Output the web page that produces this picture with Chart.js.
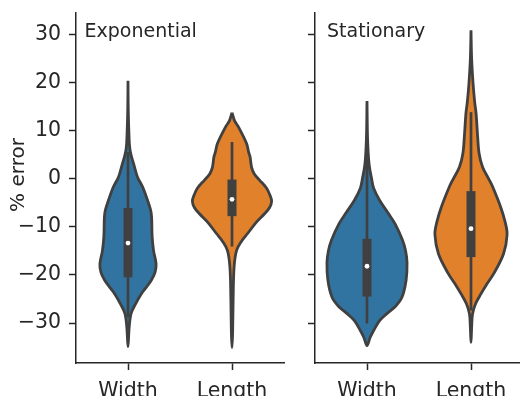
<!DOCTYPE html>
<html>
<head>
<meta charset="utf-8">
<script src="https://cdn.jsdelivr.net/npm/chart.js@4.4.0/dist/chart.umd.min.js"></script>
<style>
  html, body { margin: 0; padding: 0; background: #fff; overflow: hidden; width: 520px; height: 396px; }
  #left { position: absolute; left: 0; top: 0; }
  #right { position: absolute; left: 290px; top: 0; }
</style>
</head>
<body>
<canvas id="left" width="290" height="396"></canvas>
<canvas id="right" width="240" height="396"></canvas>
<script>
// ==============================
// Violin plots: % error by panel
// ==============================

const categories = ['Width', 'Length'];
const panelTitles = ['Exponential', 'Stationary'];
const yTicks = [-30, -20, -10, 0, 10, 20, 30];
const yLabel = '% error';

// violin outlines: % error levels (top -> bottom) and half widths (category units)
const expWidthY = [20.3, 15, 10, 5.9, 2.4, 0.3, -1.7, -4.5, -6.5, -8, -12, -15, -17.7, -19.5, -21, -22.5, -24, -26, -28, -31, -34.9];
const expWidthHalf = [0, 0.002, 0.008, 0.02, 0.063, 0.092, 0.14, 0.188, 0.217, 0.227, 0.232, 0.246, 0.27, 0.26, 0.227, 0.179, 0.126, 0.073, 0.03, 0.011, 0];

const expLengthY = [13.7, 12, 10.7, 7.3, 5.5, 4.5, 2.4, 1, -0.3, -2, -3.5, -4.7, -6, -7.3, -9, -11.4, -13, -14.9, -18.4, -25, -32, -35.1];
const expLengthHalf = [0, 0.025, 0.063, 0.14, 0.16, 0.174, 0.188, 0.213, 0.265, 0.333, 0.366, 0.381, 0.362, 0.313, 0.237, 0.15, 0.092, 0.044, 0.02, 0.011, 0.006, 0];

const statWidthY = [16.1, 8, 3, 0, -2, -4.5, -7, -9.4, -12.8, -15, -17.5, -21.1, -24.6, -26.5, -28.1, -29.5, -31.6, -33, -34.7];
const statWidthHalf = [0, 0.006, 0.02, 0.044, 0.064, 0.121, 0.198, 0.27, 0.342, 0.371, 0.385, 0.376, 0.337, 0.275, 0.188, 0.121, 0.063, 0.03, 0];

const statLengthY = [30.8, 25, 19.7, 16, 13.5, 9, 5.2, 2.4, 0, -1.7, -5.9, -9, -11.6, -15.6, -19.8, -22, -23.9, -26, -28.1, -31, -34];
const statLengthHalf = [0, 0.006, 0.02, 0.035, 0.049, 0.063, 0.078, 0.111, 0.169, 0.208, 0.285, 0.328, 0.347, 0.313, 0.217, 0.15, 0.097, 0.044, 0.015, 0.006, 0];

// box stats: [lower whisker, q1, median, q3, upper whisker]
const expWidthBox = [-28.8, -20.5, -13.4, -6.1, 5.5];
const expLengthBox = [-14.1, -7.8, -4.3, -0.2, 7.6];
const statWidthBox = [-30.1, -24.5, -18.2, -12.5, 4];
const statLengthBox = [-27.4, -16.3, -10.4, -2.6, 13.8];

const colors = ['#3274a1', '#e1812c'];
const gray = '#404040';
const ink = '#262626';
const fontFamily = "'DejaVu Sans', sans-serif";

function fmtTick(v) {
    return v < 0 ? '\u2212' + Math.abs(v) : String(v);
}

// closed outline: right side going down, left side coming back up
function outline(center, ys, halfs) {
    const right = ys.map((y, i) => ({ x: center + halfs[i], y: y }));
    const left = ys.map((y, i) => ({ x: center - halfs[i], y: y })).reverse();
    return right.concat(left.slice(1));
}

function violinDatasets(center, ys, halfs, box, color) {
    return [
        {   // median dot
            data: [{ x: center, y: box[2] }],
            pointRadius: 2.4,
            pointBackgroundColor: '#ffffff',
            pointBorderWidth: 0,
            showLine: false,
            order: 0
        },
        {   // interquartile box
            data: [{ x: center, y: box[1] }, { x: center, y: box[3] }],
            showLine: true,
            borderColor: gray,
            borderWidth: 9,
            borderCapStyle: 'butt',
            pointRadius: 0,
            order: 1
        },
        {   // whiskers
            data: [{ x: center, y: box[0] }, { x: center, y: box[4] }],
            showLine: true,
            borderColor: gray,
            borderWidth: 2.7,
            borderCapStyle: 'butt',
            pointRadius: 0,
            order: 2
        },
        {   // violin body
            data: outline(center, ys, halfs),
            showLine: true,
            fill: 'shape',
            backgroundColor: color,
            borderColor: gray,
            borderWidth: 2.8,
            borderJoinStyle: 'round',
            tension: 0.35,
            pointRadius: 0,
            order: 3
        }
    ];
}

// draws the panel title and (optionally) the rotated y label
const panelText = {
    id: 'panelText',
    afterDraw(chart, args, opts) {
        const ctx = chart.ctx;
        ctx.save();
        ctx.fillStyle = ink;
        ctx.font = '19px ' + fontFamily;
        ctx.textAlign = 'left';
        ctx.textBaseline = 'alphabetic';
        ctx.fillText(opts.title, chart.chartArea.left + opts.dx, 36.5);
        if (opts.yLabel) {
            ctx.font = '20px ' + fontFamily;
            ctx.translate(19, 175);
            ctx.rotate(-Math.PI / 2);
            ctx.textAlign = 'center';
            ctx.textBaseline = 'middle';
            ctx.fillText(opts.yLabel, 0, 0);
        }
        ctx.restore();
    }
};

function makePanel(canvasId, title, datasets, showLabels, axisWidth, padRight, titleDx) {
    const tickFont = { family: fontFamily, size: 20.5 };
    const gridOpts = {
        drawOnChartArea: false,
        drawTicks: true,
        tickLength: 7,
        tickWidth: 1.5,
        tickColor: ink
    };
    return new Chart(document.getElementById(canvasId), {
        type: 'scatter',
        data: { datasets: datasets },
        options: {
            responsive: false,
            animation: false,
            devicePixelRatio: 1,
            layout: { padding: { top: 13, right: padRight, left: 0, bottom: 0 } },
            plugins: {
                legend: { display: false },
                tooltip: { enabled: false },
                panelText: { title: title, dx: titleDx, yLabel: showLabels ? yLabel : null }
            },
            scales: {
                x: {
                    type: 'linear',
                    min: -0.5,
                    max: 1.5,
                    afterBuildTicks: s => { s.ticks = [{ value: 0 }, { value: 1 }]; },
                    afterFit: s => { s.height = 33; s.paddingLeft = 0; s.paddingRight = 0; },
                    ticks: {
                        callback: v => categories[v],
                        font: tickFont,
                        color: ink,
                        padding: 9,
                        maxRotation: 0,
                        autoSkip: false
                    },
                    grid: gridOpts,
                    border: { color: ink, width: 1.5 }
                },
                y: {
                    type: 'linear',
                    min: -38.3,
                    max: 34.4,
                    afterBuildTicks: s => { s.ticks = yTicks.map(v => ({ value: v })); },
                    afterFit: s => { s.width = axisWidth; s.paddingTop = 0; s.paddingBottom = 0; },
                    ticks: {
                        callback: v => showLabels ? fmtTick(v) : '',
                        font: tickFont,
                        color: ink,
                        padding: 8
                    },
                    grid: gridOpts,
                    border: { color: ink, width: 1.5 }
                }
            }
        },
        plugins: [panelText]
    });
}

makePanel('left', panelTitles[0],
    violinDatasets(0, expWidthY, expWidthHalf, expWidthBox, colors[0])
        .concat(violinDatasets(1, expLengthY, expLengthHalf, expLengthBox, colors[1])),
    true, 76, 6, 8.5);

makePanel('right', panelTitles[1],
    violinDatasets(0, statWidthY, statWidthHalf, statWidthBox, colors[0])
        .concat(violinDatasets(1, statLengthY, statLengthHalf, statLengthBox, colors[1])),
    false, 25, 7, 12);
</script>
</body>
</html>
